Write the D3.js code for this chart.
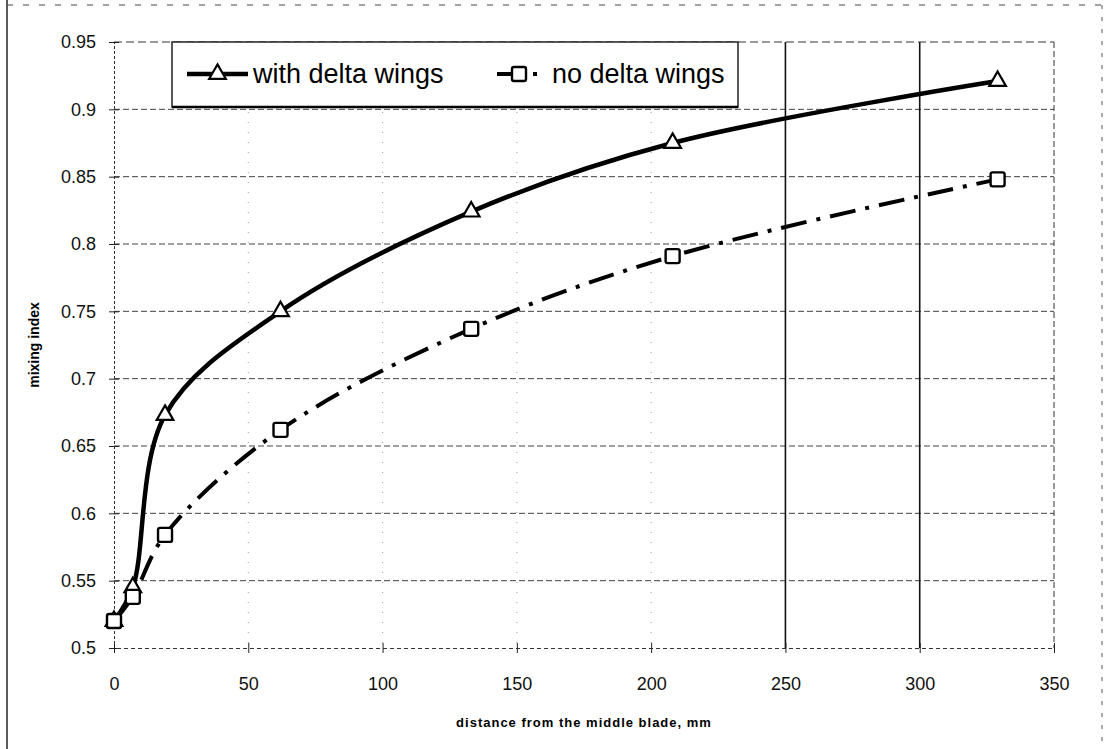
<!DOCTYPE html>
<html>
<head>
<meta charset="utf-8">
<script src="https://cdn.jsdelivr.net/npm/d3@7"></script>
<style>
body { margin: 0; background: #fff; }
svg { display: block; font-family: Arial, "Liberation Sans", sans-serif; }
</style>
</head>
<body>
<svg id="chart" width="1108" height="749"></svg>
<script>
//Values
var distance = [0, 7, 19, 62, 133, 208, 329];
var withDelta = [0.52, 0.545, 0.673, 0.75, 0.824, 0.875, 0.921];
var noDelta = [0.52, 0.538, 0.584, 0.662, 0.737, 0.791, 0.848];
var seriesNames = ["with delta wings", "no delta wings"];
var xTicks = [0, 50, 100, 150, 200, 250, 300, 350];
var yTicks = [0.5, 0.55, 0.6, 0.65, 0.7, 0.75, 0.8, 0.85, 0.9, 0.95];
var yTickLabels = ["0.5", "0.55", "0.6", "0.65", "0.7", "0.75", "0.8", "0.85", "0.9", "0.95"];

var svg = d3.select("#chart");

////////////////////////////////////////////////////////
////////Scales
////////////////////////////////////////////////////////
var x = d3.scaleLinear().domain([0, 350]).range([114, 1054]);
var y = d3.scaleLinear().domain([0.5, 0.95]).range([648, 42]);

// outer frame of the chart area (scan edges)
svg.append("line").attr("x1", 7).attr("x2", 7).attr("y1", 0).attr("y2", 749)
    .attr("stroke", "#222").attr("stroke-width", 1.5);
svg.append("line").attr("x1", 7).attr("x2", 1102).attr("y1", 5).attr("y2", 5)
    .attr("stroke", "#444").attr("stroke-dasharray", "6,10");
svg.append("line").attr("x1", 1102).attr("x2", 1102).attr("y1", 5).attr("y2", 749)
    .attr("stroke", "#555").attr("stroke-dasharray", "4,8");

////////////////////////////////////////////////////////
////////Grid
////////////////////////////////////////////////////////
var grid = svg.append("g");
grid.selectAll("line.h")
    .data(yTicks.slice(1, -1))
    .enter().append("line")
    .attr("class", "h")
    .attr("x1", x(0)).attr("x2", x(350))
    .attr("y1", function (d) { return y(d); })
    .attr("y2", function (d) { return y(d); })
    .attr("stroke", "#444")
    .attr("stroke-width", 1)
    .attr("stroke-dasharray", "6,3");

grid.selectAll("line.v")
    .data(xTicks.slice(1, -1))
    .enter().append("line")
    .attr("class", "v")
    .attr("x1", function (d) { return x(d); })
    .attr("x2", function (d) { return x(d); })
    .attr("y1", y(0.95)).attr("y2", y(0.5))
    .attr("stroke", function (d) { return d >= 250 ? "#111" : "#999"; })
    .attr("stroke-width", function (d) { return d >= 250 ? 1.6 : 1; })
    .attr("stroke-dasharray", function (d) { return d >= 250 ? null : "1,9"; });

// plot border: top and right dashed like the scan
grid.append("line").attr("x1", x(0)).attr("x2", x(350)).attr("y1", y(0.95)).attr("y2", y(0.95))
    .attr("stroke", "#333").attr("stroke-dasharray", "8,4");
grid.append("line").attr("x1", x(350)).attr("x2", x(350)).attr("y1", y(0.95)).attr("y2", y(0.5))
    .attr("stroke", "#333").attr("stroke-dasharray", "6,3");

////////////////////////////////////////////////////////
////////Axes
////////////////////////////////////////////////////////
var yAxis = svg.append("g")
    .attr("transform", "translate(" + x(0) + ",0)")
    .call(d3.axisLeft(y).tickValues(yTicks)
        .tickFormat(function (d, i) { return yTickLabels[i]; })
        .tickSize(5).tickPadding(13));
yAxis.select(".domain").attr("stroke", "#333").attr("stroke-dasharray", "3,2");
yAxis.selectAll(".tick line").attr("x2", 5).attr("x1", -5).attr("stroke", "#222");
yAxis.selectAll("text").attr("font-size", 18).attr("fill", "#111")
    .attr("font-family", "Arial, 'Liberation Sans', sans-serif");

var xAxis = svg.append("g")
    .attr("transform", "translate(0," + y(0.5) + ")")
    .call(d3.axisBottom(x).tickValues(xTicks).tickSize(5).tickPadding(24));
xAxis.select(".domain").attr("stroke", "#333").attr("stroke-dasharray", "4,3");
xAxis.selectAll(".tick line").attr("y1", -5).attr("y2", 5).attr("stroke", "#222");
xAxis.selectAll("text").attr("font-size", 18).attr("fill", "#111")
    .attr("font-family", "Arial, 'Liberation Sans', sans-serif");

svg.append("text")
    .attr("x", (x(0) + x(350)) / 2)
    .attr("y", 727)
    .attr("text-anchor", "middle")
    .attr("font-size", 13)
    .attr("font-weight", "bold")
    .attr("letter-spacing", 1)
    .text("distance from the middle blade, mm");

svg.append("text")
    .attr("transform", "translate(39," + (y(0.5) + y(0.95)) / 2 + ") rotate(-90)")
    .attr("text-anchor", "middle")
    .attr("font-size", 14)
    .attr("font-weight", "bold")
    .text("mixing index");

////////////////////////////////////////////////////////
////////Series
////////////////////////////////////////////////////////
var line = d3.line()
    .x(function (d) { return x(d[0]); })
    .y(function (d) { return y(d[1]); })
    .curve(d3.curveCatmullRom.alpha(0.5));

var withPts = d3.zip(distance, withDelta);
var noPts = d3.zip(distance, noDelta);

svg.append("path").datum(noPts)
    .attr("d", line)
    .attr("fill", "none")
    .attr("stroke", "#000")
    .attr("stroke-width", 4)
    .attr("stroke-dasharray", "26,10,4,10");

svg.append("path").datum(withPts)
    .attr("d", line)
    .attr("fill", "none")
    .attr("stroke", "#000")
    .attr("stroke-width", 4.5);

var triangle = d3.symbol().type(d3.symbolTriangle).size(120);

var drawTriangles = function (group, pts) {
    group.selectAll("path")
        .data(pts)
        .enter().append("path")
        .attr("d", triangle)
        .attr("transform", function (d) { return "translate(" + x(d[0]) + "," + y(d[1]) + ")"; })
        .attr("fill", "#fff")
        .attr("stroke", "#000")
        .attr("stroke-width", 2.2);
};

var drawSquares = function (group, pts) {
    group.selectAll("rect")
        .data(pts)
        .enter().append("rect")
        .attr("x", function (d) { return x(d[0]) - 7; })
        .attr("y", function (d) { return y(d[1]) - 7; })
        .attr("width", 14).attr("height", 14)
        .attr("rx", 2)
        .attr("fill", "#fff")
        .attr("stroke", "#000")
        .attr("stroke-width", 2.4);
};

drawTriangles(svg.append("g"), withPts);
drawSquares(svg.append("g"), noPts);

////////////////////////////////////////////////////////
////////Legend
////////////////////////////////////////////////////////
var legend = svg.append("g");
legend.append("rect")
    .attr("x", 172).attr("y", 42)
    .attr("width", 566).attr("height", 65)
    .attr("fill", "#fff")
    .attr("stroke", "#222")
    .attr("stroke-width", 1.5);
// heavier bottom edge as on the scan
legend.append("line").attr("x1", 172).attr("x2", 738).attr("y1", 107).attr("y2", 107)
    .attr("stroke", "#000").attr("stroke-width", 2.5);

var legendRows = [
    { name: seriesNames[0], x0: 187, x1: 248, tx: 253, dash: null, width: 4.5 },
    { name: seriesNames[1], x0: 497, x1: 548, tx: 552, dash: "27,9,4,20", width: 4 }
];
var ly = 74;

legendRows.forEach(function (row, i) {
    legend.append("line")
        .attr("x1", row.x0).attr("x2", row.x1)
        .attr("y1", ly).attr("y2", ly)
        .attr("stroke", "#000")
        .attr("stroke-width", row.width)
        .attr("stroke-dasharray", row.dash);
    var cx = i === 0 ? (row.x0 + row.x1) / 2 : row.x0 + 22;
    if (i === 0) {
        legend.append("path").attr("d", triangle)
            .attr("transform", "translate(" + cx + "," + ly + ")")
            .attr("fill", "#fff").attr("stroke", "#000").attr("stroke-width", 2.2);
    } else {
        legend.append("rect")
            .attr("x", cx - 7).attr("y", ly - 7)
            .attr("width", 14).attr("height", 14).attr("rx", 2)
            .attr("fill", "#fff").attr("stroke", "#000").attr("stroke-width", 2.4);
    }
    legend.append("text")
        .attr("x", row.tx).attr("y", ly + 9)
        .attr("font-size", 27)
        .attr("fill", "#000")
        .text(row.name);
});
</script>
</body>
</html>
